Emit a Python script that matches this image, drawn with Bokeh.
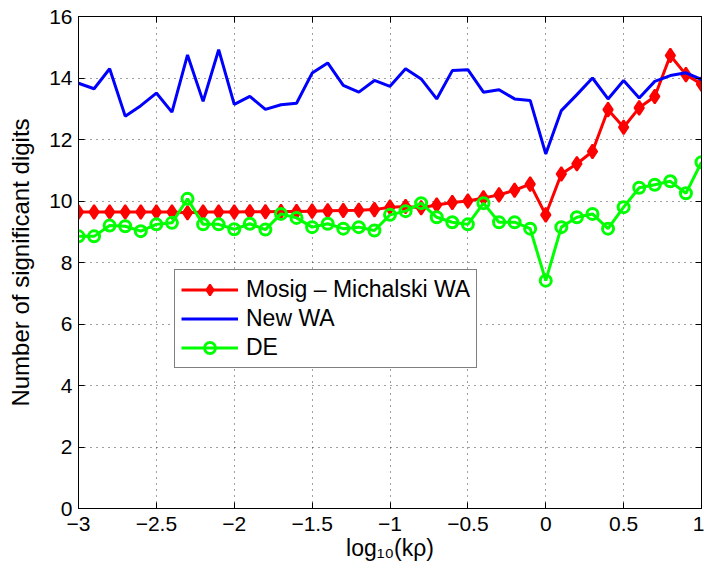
import numpy as np
from bokeh.plotting import figure
from bokeh.models import (Range1d, FixedTicker, LinearAxis, Legend, LegendItem)
from bokeh.embed import file_html
from bokeh.resources import INLINE

# ---- data ----
x_vals = [-3.0, -2.9, -2.8, -2.7, -2.6, -2.5, -2.4, -2.3, -2.2, -2.1, -2.0,
          -1.9, -1.8, -1.7, -1.6, -1.5, -1.4, -1.3, -1.2, -1.1, -1.0,
          -0.9, -0.8, -0.7, -0.6, -0.5, -0.4, -0.3, -0.2, -0.1, 0.0,
          0.1, 0.2, 0.3, 0.4, 0.5, 0.6, 0.7, 0.8, 0.9, 1.0]

mosig_wa = [9.64, 9.64, 9.64, 9.64, 9.64, 9.64, 9.64, 9.62, 9.64, 9.64, 9.64,
            9.65, 9.65, 9.66, 9.66, 9.67, 9.68, 9.69, 9.70, 9.72,
            9.80, 9.82, 9.78, 9.87, 9.95, 10.00, 10.10, 10.20, 10.35, 10.55, 9.55,
            10.88, 11.21, 11.61, 12.97, 12.40, 13.03, 13.40, 14.73, 14.11, 13.80]

new_wa = [13.83, 13.65, 14.30, 12.76, 13.10, 13.51, 12.89, 14.75, 13.24, 14.92, 13.14,
          13.40, 12.98, 13.13, 13.18, 14.16, 14.49, 13.76, 13.54, 13.92,
          13.73, 14.30, 13.97, 13.32, 14.24, 14.27, 13.54, 13.62, 13.32, 13.27, 11.53,
          12.94, 13.46, 14.00, 13.32, 13.92, 13.35, 13.89, 14.08, 14.17, 13.95]

de = [8.85, 8.85, 9.20, 9.18, 9.02, 9.24, 9.29, 10.07, 9.24, 9.24, 9.08,
      9.26, 9.07, 9.58, 9.45, 9.15, 9.26, 9.10, 9.15, 9.04,
      9.55, 9.67, 9.93, 9.47, 9.31, 9.24, 9.93, 9.31, 9.31, 9.10, 7.41,
      9.15, 9.47, 9.58, 9.10, 9.80, 10.43, 10.53, 10.64, 10.25, 11.26]

x_ticks = [-3, -2.5, -2, -1.5, -1, -0.5, 0, 0.5, 1]
x_tick_labels = ["\u22123", "\u22122.5", "\u22122", "\u22121.5", "\u22121",
                 "\u22120.5", "0", "0.5", "1"]
y_ticks = [0, 2, 4, 6, 8, 10, 12, 14, 16]

labels = ["Mosig \u2013 Michalski WA", "New WA", "DE"]

FONT = "Liberation Sans"

p = figure(width=704, height=572, output_backend="svg", toolbar_location=None,
           x_range=Range1d(-3, 1), y_range=Range1d(0, 16),
           min_border_left=78, min_border_right=3, min_border_top=16,
           min_border_bottom=64)

p.background_fill_color = "white"
p.border_fill_color = "white"
p.outline_line_color = "black"
p.outline_line_width = 1

# grid
for g in (p.xgrid, p.ygrid):
    g.grid_line_color = "black"
    g.grid_line_alpha = 0.75
    g.grid_line_dash = "1 5"
    g.grid_line_width = 1
p.xgrid.ticker = FixedTicker(ticks=x_ticks)
p.ygrid.ticker = FixedTicker(ticks=y_ticks)

# axes
xa = p.xaxis[0]
ya = p.yaxis[0]
xa.ticker = FixedTicker(ticks=x_ticks)
ya.ticker = FixedTicker(ticks=y_ticks)
xa.major_label_overrides = {t: l for t, l in zip(x_ticks, x_tick_labels)}
xa.axis_label = "log\u2081\u2080(k\u03c1)"
ya.axis_label = "Number of significant digits"
for ax in (xa, ya):
    ax.axis_line_color = "black"
    ax.major_tick_in = 6
    ax.major_tick_out = 0
    ax.minor_tick_line_color = None
    ax.major_tick_line_color = "black"
    ax.major_label_text_font = FONT
    ax.major_label_text_font_size = "21px"
    ax.major_label_text_color = "black"
    ax.axis_label_text_font = FONT
    ax.axis_label_text_font_style = "normal"
    ax.axis_label_text_color = "black"
xa.axis_label_text_font_size = "23px"
ya.axis_label_text_font_size = "24px"
xa.major_label_standoff = 8
xa.axis_label_standoff = 1
ya.major_label_standoff = 6
ya.axis_label_standoff = 12

# mirror ticks on top and right (no labels)
for loc, tk in (("above", x_ticks), ("right", y_ticks)):
    ax = LinearAxis(ticker=FixedTicker(ticks=tk))
    ax.major_label_overrides = {t: "" for t in tk}
    ax.major_label_text_font_size = "1px"
    ax.major_label_standoff = 0
    ax.major_tick_in = 6
    ax.major_tick_out = 0
    ax.minor_tick_line_color = None
    ax.axis_line_color = "black"
    p.add_layout(ax, loc)

# series
r_line = p.line(x_vals, mosig_wa, line_color="#FF0000", line_width=3)
r_mark = p.scatter(x_vals, mosig_wa, marker="diamond", size=14,
                   fill_color="#FF0000", line_color="#FF0000", line_width=2)
b_line = p.line(x_vals, new_wa, line_color="#0000FF", line_width=3)
g_line = p.line(x_vals, de, line_color="#00FF00", line_width=3)
g_mark = p.scatter(x_vals, de, marker="circle", size=11, fill_color=None,
                   line_color="#00FF00", line_width=3)

legend = Legend(items=[
    LegendItem(label=labels[0], renderers=[r_line, r_mark]),
    LegendItem(label=labels[1], renderers=[b_line]),
    LegendItem(label=labels[2], renderers=[g_line, g_mark]),
], location=(96, 140))
legend.label_text_font = FONT
legend.label_text_font_size = "23px"
legend.label_text_color = "black"
legend.border_line_color = "black"
legend.border_line_width = 1
legend.background_fill_color = "white"
legend.background_fill_alpha = 1
legend.padding = 6
legend.spacing = 2
legend.margin = 0
legend.glyph_width = 57
legend.glyph_height = 27
legend.label_height = 27
legend.label_standoff = 8
p.add_layout(legend, "center")

open("out.html", "w").write(file_html(p, INLINE))
